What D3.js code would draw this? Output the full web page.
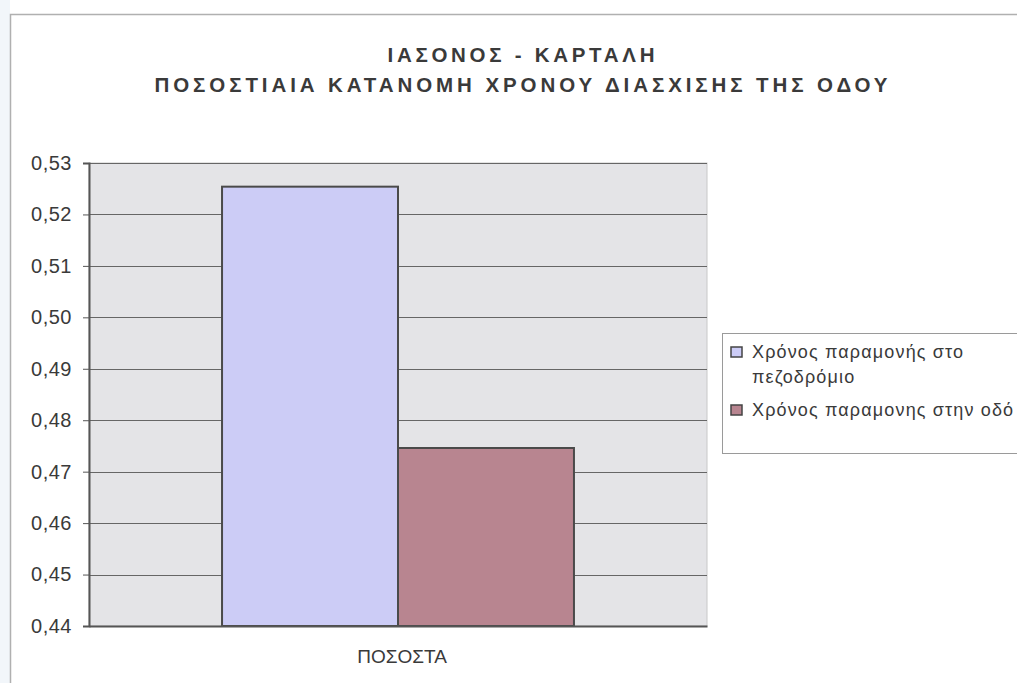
<!DOCTYPE html>
<html>
<head>
<meta charset="utf-8">
<script src="https://cdn.jsdelivr.net/npm/d3@7"></script>
<style>
  html, body { margin: 0; padding: 0; background: #ffffff; }
  svg { display: block; }
</style>
</head>
<body>
<script>
// Chart data
const titleLines = ["ΙΑΣΟΝΟΣ - ΚΑΡΤΑΛΗ", "ΠΟΣΟΣΤΙΑΙΑ ΚΑΤΑΝΟΜΗ ΧΡΟΝΟΥ ΔΙΑΣΧΙΣΗΣ ΤΗΣ ΟΔΟΥ"];
const categories = ["ΠΟΣΟΣΤΑ"];
const seriesNames = ["Χρόνος παραμονής στο πεζοδρόμιο", "Χρόνος παραμονης στην οδό"];
const legendLines = [["Χρόνος παραμονής στο", "πεζοδρόμιο"], ["Χρόνος παραμονης στην οδό"]];
const seriesValues = [0.5254, 0.4746];
const seriesColors = ["#ccccf6", "#b88590"];
const yTicks = [0.44, 0.45, 0.46, 0.47, 0.48, 0.49, 0.50, 0.51, 0.52, 0.53];

const W = 1017, H = 683;
const FONT = "Liberation Sans, Arial, sans-serif";
const svg = d3.select("body").append("svg").attr("width", W).attr("height", H);

// Outer chart frame (runs off the right and bottom edges)
svg.append("rect").attr("x", 0).attr("y", 0).attr("width", 10).attr("height", H).attr("fill", "#f2f6fa");
svg.append("path")
  .attr("d", `M10.5,${H} V14.5 H${W}`)
  .attr("fill", "none").attr("stroke", "#b0b0b0").attr("stroke-width", 1.5);

// Title
const title = svg.append("g").attr("font-family", FONT)
  .attr("font-weight", "bold").attr("fill", "#3a3a3a").attr("text-anchor", "middle");
title.append("text").attr("x", 521).attr("y", 62).attr("font-size", 20.5)
  .attr("textLength", 267).attr("lengthAdjust", "spacing").text(titleLines[0]);
title.append("text").attr("x", 521).attr("y", 92).attr("font-size", 20.5)
  .attr("textLength", 733).attr("lengthAdjust", "spacing").text(titleLines[1]);

// Plot area
const plot = { left: 89, right: 707, top: 163, bottom: 626 };
const y = d3.scaleLinear().domain([0.44, 0.53]).range([plot.bottom, plot.top]);
const x = d3.scaleBand().domain(categories).range([plot.left, plot.right]).paddingInner(0).paddingOuter(0.378);
const xs = d3.scaleBand().domain(seriesNames).range([0, x.bandwidth()]);

svg.append("rect")
  .attr("x", plot.left).attr("y", plot.top)
  .attr("width", plot.right - plot.left).attr("height", plot.bottom - plot.top)
  .attr("fill", "#e4e4e7").attr("stroke", "#c8c8c8");

// Gridlines
svg.append("g").selectAll("line").data(yTicks).join("line")
  .attr("x1", plot.left).attr("x2", plot.right)
  .attr("y1", d => Math.round(y(d)) + 0.5).attr("y2", d => Math.round(y(d)) + 0.5)
  .attr("stroke", "#666666").attr("stroke-width", 1);

// Bars
const data = seriesNames.map((s, i) => ({ cat: categories[0], series: s, value: seriesValues[i], color: seriesColors[i] }));
svg.append("g").selectAll("rect").data(data).join("rect")
  .attr("x", d => x(d.cat) + xs(d.series))
  .attr("width", xs.bandwidth())
  .attr("y", d => y(d.value))
  .attr("height", d => y(0.44) - y(d.value))
  .attr("fill", d => d.color)
  .attr("stroke", "#4a4a4a").attr("stroke-width", 2);

// Y axis
const yAxis = d3.axisLeft(y).tickValues(yTicks).tickSize(6).tickPadding(11)
  .tickFormat(d => d3.format(".2f")(d).replace(".", ","));
const gy = svg.append("g").attr("transform", `translate(${plot.left},0)`).call(yAxis);
gy.select(".domain").attr("stroke", "#555555").attr("stroke-width", 2);
gy.selectAll(".tick line").attr("stroke", "#555555");
gy.selectAll(".tick text").attr("font-family", FONT)
  .attr("font-size", 20).attr("letter-spacing", 0.5).attr("fill", "#3a3a3a");

// X axis
const xAxis = d3.axisBottom(x).tickSize(0).tickPadding(24);
const gx = svg.append("g").attr("transform", `translate(0,${plot.bottom})`).call(xAxis);
gx.select(".domain").attr("stroke", "#555555").attr("stroke-width", 2);
gx.selectAll(".tick text").attr("font-family", FONT)
  .attr("font-size", 19).attr("fill", "#3a3a3a").attr("dx", 4);

// Legend
const lg = svg.append("g").attr("transform", "translate(722,333)");
lg.append("rect").attr("x", 0.5).attr("y", 0.5).attr("width", 320).attr("height", 120)
  .attr("fill", "#ffffff").attr("stroke", "#9a9a9a");
const rowY = [25, 83];
legendLines.forEach((lines, i) => {
  lg.append("rect").attr("x", 9).attr("y", rowY[i] - 11).attr("width", 11).attr("height", 10)
    .attr("fill", seriesColors[i]).attr("stroke", "#444444").attr("stroke-width", 1.5);
  const t = lg.append("text").attr("font-family", FONT)
    .attr("font-size", 18).attr("letter-spacing", 1.15).attr("fill", "#3a3a3a");
  lines.forEach((ln, j) => {
    t.append("tspan").attr("x", 30).attr("y", rowY[i] + j * 25).text(ln);
  });
});
</script>
</body>
</html>
